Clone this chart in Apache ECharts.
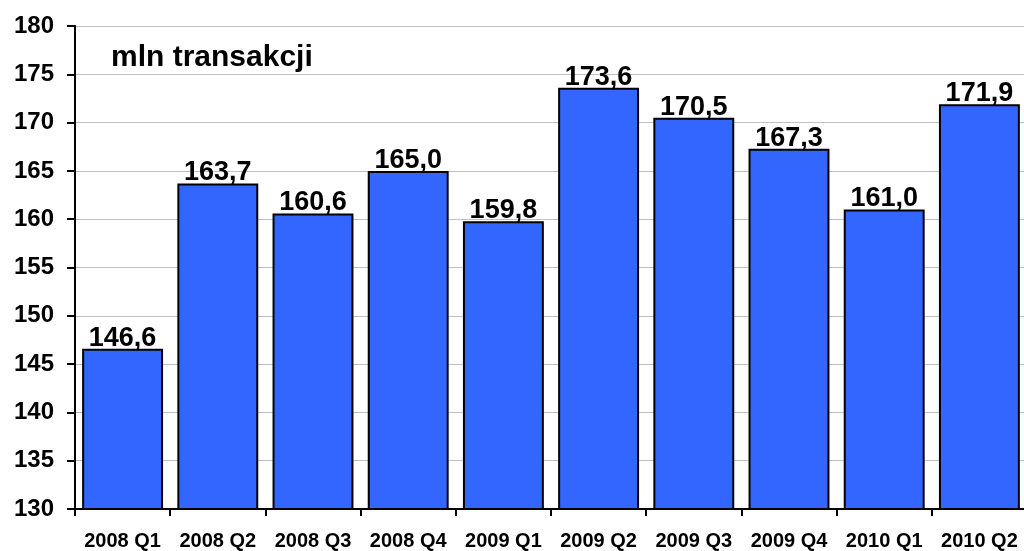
<!DOCTYPE html>
<html><head><meta charset="utf-8">
<script src="https://cdn.jsdelivr.net/npm/echarts@6/dist/echarts.min.js"></script>
<style>html,body{margin:0;padding:0;background:#fff}#c{width:1024px;height:551px}</style>
</head><body><div id="c"></div>
<script>
const categories = ['2008 Q1','2008 Q2','2008 Q3','2008 Q4','2009 Q1','2009 Q2','2009 Q3','2009 Q4','2010 Q1','2010 Q2'];
const values = [146.6,163.7,160.6,165.0,159.8,173.6,170.5,167.3,161.0,171.9];
const unitLabel = 'mln transakcji';
const F = 'Arial, "Liberation Sans", sans-serif';
const chart = echarts.init(document.getElementById('c'), null, {renderer:'canvas'});
chart.setOption({
  animation:false,
  backgroundColor:'#fff',
  title:{text:unitLabel,left:106,top:38,textStyle:{fontFamily:F,fontWeight:'bold',fontSize:30,color:'#000'}},
  grid:{left:75,top:26,width:952,bottom:42,containLabel:false,outerBoundsMode:'none'},
  xAxis:{type:'category',data:categories,
    axisLine:{lineStyle:{color:'#000',width:2}},
    axisTick:{show:true,length:7,lineStyle:{color:'#000',width:2},alignWithLabel:false},
    axisLabel:{fontFamily:F,fontWeight:'bold',fontSize:20,color:'#000',margin:22,interval:0}},
  yAxis:{type:'value',min:130,max:180,interval:5,
    axisLine:{show:true,lineStyle:{color:'#000',width:2}},
    axisTick:{show:true,length:8,lineStyle:{color:'#000',width:2}},
    axisLabel:{fontFamily:F,fontWeight:'bold',fontSize:24,color:'#000',margin:21},
    splitLine:{lineStyle:{color:'#c0c0c0',width:1}}},
  series:[{type:'bar',data:values,barCategoryGap:'15%',
    itemStyle:{color:'#3366FF',borderColor:'#000',borderWidth:2},
    label:{show:true,position:'top',distance:-3,fontFamily:F,fontWeight:'bold',fontSize:27,color:'#000',
      formatter:p=>p.value.toFixed(1).replace('.',',')}}]
});
</script></body></html>
